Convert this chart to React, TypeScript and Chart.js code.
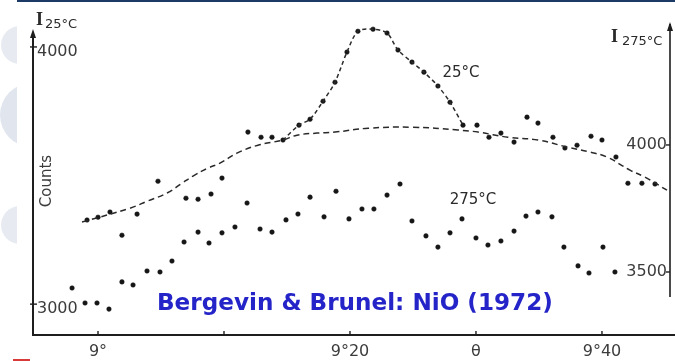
import React, { useEffect, useRef } from "react";
import { Chart, registerables } from "chart.js";

Chart.register(...registerables);

// x values are arc-minutes above 9° (scan angle); y values are counts
const xTickValues = [0, 10, 20, 30, 40];
const xTickLabels = ["9°", "", "9°20", "θ", "9°40"];
const leftTickValues = [3000, 4000];
const rightTickValues = [3500, 4000];

// 25°C measured points (left axis)
const x25 = [-0.87, 0, 0.95, 3.1, 11.9, 12.94, 13.81, 14.68, 15.95, 16.83, 17.86, 18.81, 19.76, 20.63, 21.83, 22.94, 23.81, 24.92, 25.87, 26.98, 27.94, 28.97, 30.08, 31.03, 31.98, 33.02, 34.05, 34.92, 36.11, 37.06, 38.02, 39.13, 40.0, 41.11, 42.06, 43.17, 44.21];
const y25 = [3327, 3338, 3358, 3350, 3669, 3649, 3649, 3638, 3696, 3719, 3789, 3863, 3980, 4061, 4069, 4054, 3988, 3941, 3902, 3848, 3785, 3696, 3696, 3649, 3665, 3630, 3727, 3704, 3649, 3607, 3618, 3653, 3638, 3572, 3470, 3470, 3467];

// scattered points between the curves (left axis)
const xMid = [1.9, 4.76, 6.98, 7.94, 8.97, 9.84, 11.83, 16.83, 18.89, 22.94, 23.97];
const yMid = [3268, 3478, 3412, 3408, 3428, 3490, 3393, 3416, 3439, 3424, 3467];

// 275°C measured points (right axis)
const x275 = [-2.06, -1.03, -0.08, 0.87, 1.9, 2.78, 3.89, 4.92, 5.87, 6.83, 7.94, 8.81, 9.84, 10.87, 12.86, 13.81, 14.92, 15.87, 17.94, 19.92, 20.95, 21.9, 24.92, 26.03, 26.98, 27.94, 28.89, 30.0, 30.95, 31.98, 33.02, 33.97, 34.92, 36.03, 36.98, 38.1, 38.97, 40.08, 41.03];
const y275 = [3437, 3378, 3378, 3354, 3461, 3449, 3504, 3500, 3543, 3618, 3657, 3614, 3654, 3677, 3669, 3657, 3705, 3728, 3717, 3709, 3748, 3748, 3701, 3642, 3598, 3654, 3709, 3634, 3606, 3622, 3661, 3720, 3736, 3717, 3598, 3524, 3496, 3598, 3500];

// dashed background curve (left axis)
const xBg = [-1.27, 2.54, 3.89, 5.48, 6.67, 7.54, 8.73, 9.68, 11.03, 12.7, 14.68, 15.79, 17.38, 18.81, 21.43, 24.92, 28.57, 30.16, 32.54, 34.92, 37.3, 39.05, 40.4, 42.22, 43.41, 45.16];
const yBg = [3319, 3373, 3400, 3432, 3470, 3498, 3529, 3548, 3587, 3618, 3638, 3657, 3665, 3669, 3684, 3688, 3677, 3669, 3649, 3638, 3610, 3591, 3572, 3521, 3494, 3443];

// range of the 25°C points joined by the dashed peak line
const peakFrom = 14.5;
const peakTo = 29.5;

const INK = "#161616";
const LABEL = "#3c3c3c";

const zip = (xs: number[], ys: number[]) => xs.map((x, i) => ({ x, y: ys[i] }));

const decorPlugin = {
  id: "decor",
  beforeDraw(chart: any) {
    const ctx = chart.ctx;
    ctx.save();
    ctx.fillStyle = "#ffffff";
    ctx.fillRect(0, 0, chart.width, chart.height);
    // slide decoration on the left edge
    ctx.beginPath();
    ctx.rect(0, 0, 17, chart.height);
    ctx.clip();
    ctx.fillStyle = "#e7ebf1";
    ctx.beginPath();
    ctx.arc(20, 45, 19, 0, Math.PI * 2);
    ctx.fill();
    ctx.fillStyle = "#e1e6ee";
    ctx.beginPath();
    ctx.arc(32, 115, 32, 0, Math.PI * 2);
    ctx.fill();
    ctx.fillStyle = "#e7ebf1";
    ctx.beginPath();
    ctx.arc(20, 225, 19, 0, Math.PI * 2);
    ctx.fill();
    ctx.restore();
    ctx.save();
    ctx.fillStyle = "#1b3a66";
    ctx.fillRect(17, 0, chart.width - 17, 2);
    ctx.fillStyle = "#d83a3a";
    ctx.fillRect(13, 359, 17, 2);
    ctx.restore();
  },
  afterDraw(chart: any) {
    const ctx = chart.ctx;
    const a = chart.chartArea;
    const xs = chart.scales.x;
    const yl = chart.scales.yL;
    const yr = chart.scales.yR;
    ctx.save();
    ctx.strokeStyle = "#1e1e1e";
    ctx.fillStyle = "#1e1e1e";
    ctx.lineWidth = 2;
    // left + bottom axis
    ctx.beginPath();
    ctx.moveTo(a.left, a.top + 10);
    ctx.lineTo(a.left, a.bottom);
    ctx.lineTo(a.right + 5, a.bottom);
    ctx.stroke();
    // right axis
    ctx.lineWidth = 1.6;
    ctx.beginPath();
    ctx.moveTo(a.right, a.top + 2);
    ctx.lineTo(a.right, a.top + 275);
    ctx.stroke();
    // arrow heads
    const arrow = (x: number, y: number) => {
      ctx.beginPath();
      ctx.moveTo(x, y);
      ctx.lineTo(x - 3, y + 9);
      ctx.lineTo(x + 3, y + 9);
      ctx.closePath();
      ctx.fill();
    };
    arrow(a.left, a.top + 7);
    arrow(a.right, a.top);
    // tick marks
    ctx.lineWidth = 1.4;
    xTickValues.forEach((v) => {
      const px = xs.getPixelForValue(v);
      ctx.beginPath();
      ctx.moveTo(px, a.bottom);
      ctx.lineTo(px, a.bottom - 4);
      ctx.stroke();
    });
    leftTickValues.forEach((v) => {
      const py = yl.getPixelForValue(v);
      ctx.beginPath();
      ctx.moveTo(a.left - 3, py);
      ctx.lineTo(a.left + 4, py);
      ctx.stroke();
    });
    rightTickValues.forEach((v) => {
      const py = yr.getPixelForValue(v);
      ctx.beginPath();
      ctx.moveTo(a.right - 4, py);
      ctx.lineTo(a.right, py);
      ctx.stroke();
    });

    // right-axis tick labels (inside the plot, left of the axis)
    ctx.fillStyle = LABEL;
    ctx.font = "16px 'DejaVu Sans'";
    ctx.textAlign = "right";
    ctx.textBaseline = "middle";
    rightTickValues.forEach((v) => {
      const py = yr.getPixelForValue(v);
      ctx.fillText(String(v), a.right - 3, py);
    });

    // axis titles
    ctx.fillStyle = "#2a2a2a";
    ctx.textBaseline = "alphabetic";
    ctx.textAlign = "left";
    ctx.font = "bold 18px 'Liberation Serif'";
    ctx.fillText("I", 36, 25);
    ctx.fillText("I", 611, 42);
    ctx.font = "13px 'DejaVu Sans'";
    ctx.fillText("25°C", 45, 28);
    ctx.fillText("275°C", 622, 45);

    ctx.save();
    ctx.translate(51, 181);
    ctx.rotate(-Math.PI / 2);
    ctx.textAlign = "center";
    ctx.font = "15px 'DejaVu Sans'";
    ctx.fillStyle = LABEL;
    ctx.fillText("Counts", 0, 0);
    ctx.restore();

    // curve labels
    ctx.fillStyle = "#2a2a2a";
    ctx.textAlign = "center";
    ctx.textBaseline = "middle";
    ctx.font = "15px 'DejaVu Sans'";
    ctx.fillText("25°C", 461, 73);
    ctx.fillText("275°C", 473, 200);

    // overlay caption
    const caption = "Bergevin & Brunel: NiO (1972)";
    ctx.font = "bold 24px 'DejaVu Sans'";
    const w = ctx.measureText(caption).width;
    const size = (24 * 396) / w;
    ctx.font = `bold ${size.toFixed(2)}px 'DejaVu Sans'`;
    ctx.fillStyle = "#2424c8";
    ctx.textAlign = "left";
    ctx.textBaseline = "alphabetic";
    ctx.fillText(caption, 157, 310);
    ctx.restore();
  },
};

export default function App() {
  const ref = useRef<HTMLCanvasElement | null>(null);

  useEffect(() => {
    if (!ref.current) return;
    const pts25 = zip(x25, y25);
    const peak = pts25.filter((p) => p.x >= peakFrom && p.x <= peakTo);
    const tickFont = { family: "'DejaVu Sans'", size: 16 };
    const pointDs = (label: string, data: any[], axis: string) => ({
      label,
      data,
      yAxisID: axis,
      showLine: false,
      pointRadius: 2.3,
      pointBackgroundColor: INK,
      pointBorderColor: INK,
      pointBorderWidth: 0.5,
    });
    const chart = new Chart(ref.current, {
      type: "scatter",
      data: {
        datasets: [
          {
            label: "background",
            data: zip(xBg, yBg),
            yAxisID: "yL",
            showLine: true,
            pointRadius: 0,
            borderColor: "#2a2a2a",
            borderWidth: 1.5,
            borderDash: [6, 4],
            tension: 0.4,
          },
          {
            label: "25°C peak",
            data: peak,
            yAxisID: "yL",
            showLine: true,
            pointRadius: 0,
            borderColor: "#2a2a2a",
            borderWidth: 1.5,
            borderDash: [4, 3],
            tension: 0.3,
          },
          pointDs("25°C", pts25, "yL"),
          pointDs("mid", zip(xMid, yMid), "yL"),
          pointDs("275°C", zip(x275, y275), "yR"),
        ],
      },
      options: {
        responsive: false,
        animation: false,
        layout: { padding: { top: 22, left: 0, right: 0, bottom: 0 } },
        plugins: { legend: { display: false }, tooltip: { enabled: false } },
        scales: {
          x: {
            type: "linear",
            position: "bottom",
            min: -5.16,
            max: 45.4,
            grid: { display: false, drawTicks: false },
            border: { display: false },
            ticks: {
              padding: 7,
              font: tickFont,
              color: LABEL,
              autoSkip: false,
              maxRotation: 0,
              callback: (v: any) => {
                const i = xTickValues.indexOf(Number(v));
                return i >= 0 ? xTickLabels[i] : "";
              },
            },
            afterBuildTicks: (s: any) => {
              s.ticks = xTickValues.map((v) => ({ value: v }));
            },
            afterFit: (s: any) => {
              s.height = 26;
            },
          },
          yL: {
            type: "linear",
            position: "left",
            min: 2880,
            max: 4097,
            grid: { display: false, drawTicks: false },
            border: { display: false },
            ticks: {
              mirror: true,
              padding: 4,
              labelOffset: 5,
              font: tickFont,
              color: LABEL,
              autoSkip: false,
              callback: (v: any) => String(v),
            },
            afterBuildTicks: (s: any) => {
              s.ticks = leftTickValues.map((v) => ({ value: v }));
            },
            afterFit: (s: any) => {
              s.width = 33;
            },
          },
          yR: {
            type: "linear",
            position: "right",
            min: 3252,
            max: 4484,
            grid: { display: false, drawTicks: false },
            border: { display: false },
            ticks: { display: false },
            afterBuildTicks: (s: any) => {
              s.ticks = rightTickValues.map((v) => ({ value: v }));
            },
            afterFit: (s: any) => {
              s.width = 5;
            },
          },
        },
      } as any,
      plugins: [decorPlugin],
    });
    return () => chart.destroy();
  }, []);

  return (
    <div style={{ position: "fixed", left: 0, top: 0, width: 675, height: 361, background: "#fff" }}>
      <canvas ref={ref} width={675} height={361} style={{ display: "block" }} />
    </div>
  );
}
